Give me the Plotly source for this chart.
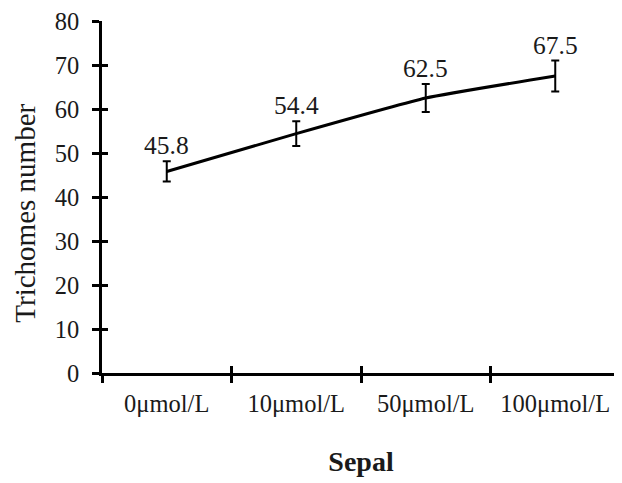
import plotly.graph_objects as go

categories = ["0μmol/L", "10μmol/L", "50μmol/L", "100μmol/L"]
values = [45.8, 54.4, 62.5, 67.5]
errors = [2.3, 2.8, 3.2, 3.5]
labels = ["45.8", "54.4", "62.5", "67.5"]

FONT = "Liberation Serif"
TXT = "#1a1a1a"

fig = go.Figure()
fig.add_trace(go.Scatter(
    x=categories, y=values, mode="lines",
    line=dict(color="black", width=3, shape="spline", smoothing=0.4),
    error_y=dict(type="data", array=errors, visible=True, color="black", thickness=2, width=4),
    showlegend=False, hoverinfo="skip",
))
# invisible trace for the overlay axes (for crossing ticks)
fig.add_trace(go.Scatter(x=categories, y=values, xaxis="x2", yaxis="y2", mode="markers",
                         marker=dict(opacity=0), showlegend=False, hoverinfo="skip"))

for c, v, e, t in zip(categories, values, errors, labels):
    fig.add_annotation(x=c, y=v + e, text=t, showarrow=False, yanchor="bottom", yshift=-1,
                       font=dict(family=FONT, size=25.5, color=TXT))

# y-axis title placed as an annotation (slightly below the plot's vertical centre, as in the reference)
fig.add_annotation(text="Trichomes number", xref="paper", yref="paper", x=-0.149, y=0.455,
                   xanchor="center", yanchor="middle", textangle=-90, showarrow=False,
                   font=dict(family=FONT, size=29, color=TXT))

axis_common = dict(showgrid=False, zeroline=False, linecolor="black", linewidth=2.5,
                   tickcolor="black", tickwidth=2.5, ticklen=7, automargin=False)

fig.update_layout(
    width=614, height=475,
    margin=dict(l=94, r=2, t=13, b=110),
    paper_bgcolor="white", plot_bgcolor="white",
    font=dict(family=FONT, size=24.5, color=TXT),
    xaxis=dict(**axis_common, type="category", categoryorder="array", categoryarray=categories,
               range=[-0.5, 3.5], tickson="boundaries", ticks="outside", showline=True,
               ticklabelstandoff=7, ticklabeloverflow="allow",
               tickfont=dict(family=FONT, size=24.5, color=TXT),
               title=dict(text="<b>Sepal</b>", font=dict(family=FONT, size=28, color=TXT), standoff=36)),
    yaxis=dict(**axis_common, range=[0, 80], dtick=10, ticks="outside", showline=True,
               ticklabelstandoff=8, ticklabeloverflow="allow",
               tickfont=dict(family=FONT, size=24.5, color=TXT)),
    xaxis2=dict(overlaying="x", type="category", categoryorder="array", categoryarray=categories,
                range=[-0.5, 3.5], tickson="boundaries", ticks="inside", ticklen=7, tickwidth=2.5,
                tickcolor="black", showticklabels=False, showgrid=False, zeroline=False, showline=False,
                side="bottom", anchor="y2"),
    yaxis2=dict(overlaying="y", range=[0, 80], dtick=10, ticks="inside", ticklen=6, tickwidth=2.5,
                tickcolor="black", showticklabels=False, showgrid=False, zeroline=False, showline=False,
                side="left", anchor="x2"),
)

fig.write_html("out.html")
